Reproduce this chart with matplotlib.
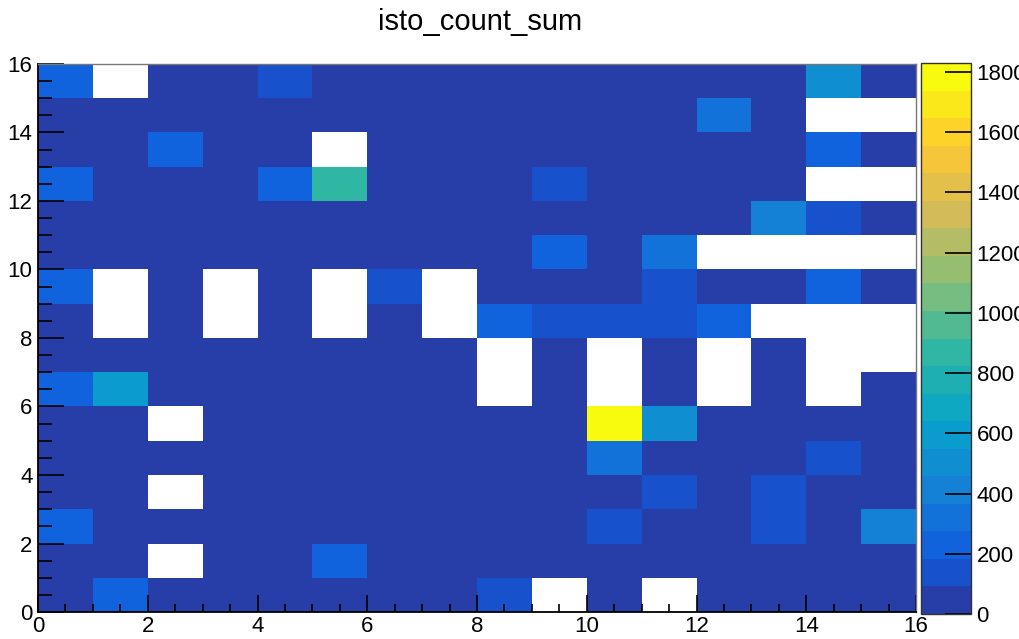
import numpy as np
import matplotlib
matplotlib.use("Agg")
import matplotlib.pyplot as plt
from matplotlib.colors import LinearSegmentedColormap, ListedColormap, BoundaryNorm

plt.rcParams['font.family'] = ['Liberation Sans', 'DejaVu Sans']

title = "isto_count_sum"

# bin contents, rows from top (y bin 15) to bottom (y bin 0); 0 = empty bin (not drawn)
row15 = [230, 0, 40, 40, 140, 40, 40, 40, 40, 40, 40, 40, 40, 40, 500, 40]
row14 = [40, 40, 40, 40, 40, 40, 40, 40, 40, 40, 40, 40, 320, 40, 0, 0]
row13 = [40, 40, 230, 40, 40, 0, 40, 40, 40, 40, 40, 40, 40, 40, 230, 40]
row12 = [230, 40, 40, 40, 230, 870, 40, 40, 40, 140, 40, 40, 40, 40, 0, 0]
row11 = [40, 40, 40, 40, 40, 40, 40, 40, 40, 40, 40, 40, 40, 410, 140, 40]
row10 = [40, 40, 40, 40, 40, 40, 40, 40, 40, 230, 40, 320, 0, 0, 0, 0]
row9 = [230, 0, 40, 0, 40, 0, 140, 0, 40, 40, 40, 140, 40, 40, 230, 40]
row8 = [40, 0, 40, 0, 40, 0, 40, 0, 230, 140, 140, 140, 230, 0, 0, 0]
row7 = [40, 40, 40, 40, 40, 40, 40, 40, 0, 40, 0, 40, 0, 40, 0, 0]
row6 = [230, 590, 40, 40, 40, 40, 40, 40, 0, 40, 0, 40, 0, 40, 0, 40]
row5 = [40, 40, 0, 40, 40, 40, 40, 40, 40, 40, 1830, 500, 40, 40, 40, 40]
row4 = [40, 40, 40, 40, 40, 40, 40, 40, 40, 40, 320, 40, 40, 40, 140, 40]
row3 = [40, 40, 0, 40, 40, 40, 40, 40, 40, 40, 40, 140, 40, 140, 40, 40]
row2 = [230, 40, 40, 40, 40, 40, 40, 40, 40, 40, 140, 40, 40, 140, 40, 410]
row1 = [40, 40, 0, 40, 40, 230, 40, 40, 40, 40, 40, 40, 40, 40, 40, 40]
row0 = [40, 230, 40, 40, 40, 40, 40, 40, 140, 0, 40, 0, 40, 40, 40, 40]

x_edges = np.arange(0, 17)
y_edges = np.arange(0, 17)
z_max = 1830
n_contours = 20

z = np.array([row0, row1, row2, row3, row4, row5, row6, row7,
              row8, row9, row10, row11, row12, row13, row14, row15], dtype=float)
z = np.ma.masked_where(z == 0, z)

# ROOT kBird palette
stops = [0.0, 0.125, 0.25, 0.375, 0.5, 0.625, 0.75, 0.875, 1.0]
red = [0.2082, 0.0592, 0.0780, 0.0232, 0.1802, 0.5301, 0.8186, 0.9956, 0.9764]
green = [0.1664, 0.3599, 0.5041, 0.6419, 0.7178, 0.7492, 0.7328, 0.7862, 0.9832]
blue = [0.5293, 0.8684, 0.8385, 0.7914, 0.6425, 0.4662, 0.3499, 0.1968, 0.0539]
bird = LinearSegmentedColormap.from_list(
    "bird", list(zip(stops, zip(red, green, blue))))
cmap = ListedColormap([bird((k + 1) / n_contours) for k in range(n_contours)])
levels = np.linspace(0, z_max, n_contours + 1)
norm = BoundaryNorm(levels, cmap.N)

fig = plt.figure(figsize=(10.19, 6.39), dpi=100)
ax = fig.add_axes([38 / 1019, 1 - 612 / 639, 878 / 1019, 548 / 639])
cax = fig.add_axes([921 / 1019, 1 - 614 / 639, 50 / 1019, 551 / 639])

mesh = ax.pcolormesh(x_edges, y_edges, z, cmap=cmap, norm=norm)
ax.set_xlim(0, 16)
ax.set_ylim(0, 16)

ax.set_xticks(np.arange(0, 17, 2))
ax.set_yticks(np.arange(0, 17, 2))
ax.set_xticks(np.arange(0, 16.01, 0.5), minor=True)
ax.set_yticks(np.arange(0, 16.01, 0.5), minor=True)
ax.tick_params(axis='x', which='major', direction='in', length=12, width=1.2,
               labelsize=16, pad=3, top=False)
ax.tick_params(axis='x', which='minor', direction='in', length=6, width=1.2, top=False)
ax.tick_params(axis='y', which='major', direction='in', length=19, width=1.2,
               labelsize=16, pad=4, right=False)
ax.tick_params(axis='y', which='minor', direction='in', length=10, width=1.2, right=False)
for s in ['left', 'bottom']:
    ax.spines[s].set_linewidth(1.3)
    ax.spines[s].set_color('black')
for s in ['top', 'right']:
    ax.spines[s].set_linewidth(1.0)
    ax.spines[s].set_color('#777777')

cb = fig.colorbar(mesh, cax=cax, ticks=np.arange(0, 1801, 200))
cb.ax.yaxis.set_ticks_position('right')
cb.ax.tick_params(direction='in', length=19, width=1.2, labelsize=16, pad=4)
cb.ax.minorticks_off()
cb.outline.set_linewidth(1.0)
cb.outline.set_edgecolor('#333333')

fig.text(480 / 1019, 1 - 22 / 639, title, ha='center', va='center', fontsize=21)

fig.savefig("out.png", dpi=100)
